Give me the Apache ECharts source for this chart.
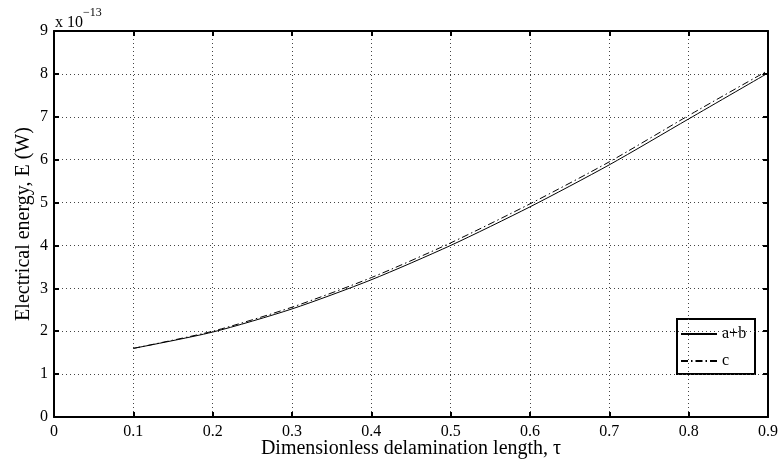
<!DOCTYPE html>
<html>
<head>
<meta charset="utf-8">
<script src="https://cdn.jsdelivr.net/npm/echarts@6/dist/echarts.min.js"></script>
<style>
  html, body {margin: 0; padding: 0; background: #fff;}
  #chart {width: 778px; height: 462px;}
</style>
</head>
<body>
<div id="chart"></div>
<script>
// values, in units of 1e-13 W
var tau = [0.1, 0.2, 0.3, 0.4, 0.5, 0.6, 0.7, 0.8, 0.9];
var energyAB = [1.6, 1.98, 2.52, 3.2, 4.0, 4.9, 5.88, 6.95, 8.02];
var energyC = [1.6, 2.0, 2.56, 3.25, 4.06, 4.97, 5.95, 7.03, 8.08];
var seriesNames = ['a+b', 'c'];

function pairs(xs, ys) {
  return xs.map(function (x, i) { return [x, ys[i]]; });
}

var serif = 'Liberation Serif';
var chart = echarts.init(document.getElementById('chart'));

var gridLine = {show: true, lineStyle: {color: '#444', type: [1, 3], width: 1}};
var box = {show: true, onZero: false, lineStyle: {color: '#000', width: 2}};
var tick = {show: true, inside: true, length: 5, lineStyle: {color: '#000', width: 2}};

chart.setOption({
  animation: false,
  backgroundColor: '#fff',
  grid: {left: 54, right: 10, top: 31, bottom: 45, outerBoundsMode: 'none', containLabel: false},
  xAxis: [{
    type: 'value', min: 0, max: 0.9, interval: 0.1,
    axisLine: box, axisTick: tick, splitLine: gridLine,
    axisLabel: {color: '#000', fontFamily: serif, fontSize: 16, margin: 7,
      formatter: function (v) { return v === 0 ? '0' : v.toFixed(1); }},
    name: 'Dimensionless delamination length, \u03c4',
    nameLocation: 'middle', nameGap: 22, nameMoveOverlap: false,
    nameTextStyle: {color: '#000', fontFamily: serif, fontSize: 20}
  }, {
    type: 'value', position: 'top', min: 0, max: 0.9, interval: 0.1,
    axisLine: box, axisTick: tick, axisLabel: {show: false}, splitLine: {show: false}
  }],
  yAxis: [{
    type: 'value', min: 0, max: 9, interval: 1,
    axisLine: box, axisTick: tick, splitLine: gridLine,
    axisLabel: {color: '#000', fontFamily: serif, fontSize: 16, margin: 6},
    name: 'Electrical energy, E (W)',
    nameLocation: 'middle', nameGap: 20, nameMoveOverlap: false,
    nameTextStyle: {color: '#000', fontFamily: serif, fontSize: 20}
  }, {
    type: 'value', position: 'right', min: 0, max: 9, interval: 1,
    axisLine: box, axisTick: tick, axisLabel: {show: false}, splitLine: {show: false}
  }],
  legend: {
    orient: 'vertical', left: 680, top: 326, padding: 0, itemGap: 11,
    itemWidth: 36, itemHeight: 14,
    itemStyle: {opacity: 0},
    textStyle: {color: '#000', fontFamily: serif, fontSize: 16},
    data: seriesNames
  },
  graphic: [
    {type: 'rect', left: 676, top: 318, shape: {width: 78, height: 55}, z: 0,
      style: {fill: '#fff', stroke: '#000', lineWidth: 2}},
    {type: 'text', left: 55, top: 7,
      style: {text: '{b|x 10}{s|\u221213}', fill: '#000',
        rich: {
          b: {fontFamily: serif, fontSize: 16, padding: [8, 0, 0, 0]},
          s: {fontFamily: serif, fontSize: 12, verticalAlign: 'top'}
        }}}
  ],
  series: [{
    name: seriesNames[0], type: 'line', smooth: 0.25, symbol: 'none',
    lineStyle: {color: '#000', width: 1},
    itemStyle: {color: '#000'},
    data: pairs(tau, energyAB)
  }, {
    name: seriesNames[1], type: 'line', smooth: 0.25, symbol: 'none',
    lineStyle: {color: '#000', width: 1, type: [7, 3, 1.5, 3]},
    itemStyle: {color: '#000'},
    data: pairs(tau, energyC)
  }]
});
</script>
</body>
</html>
